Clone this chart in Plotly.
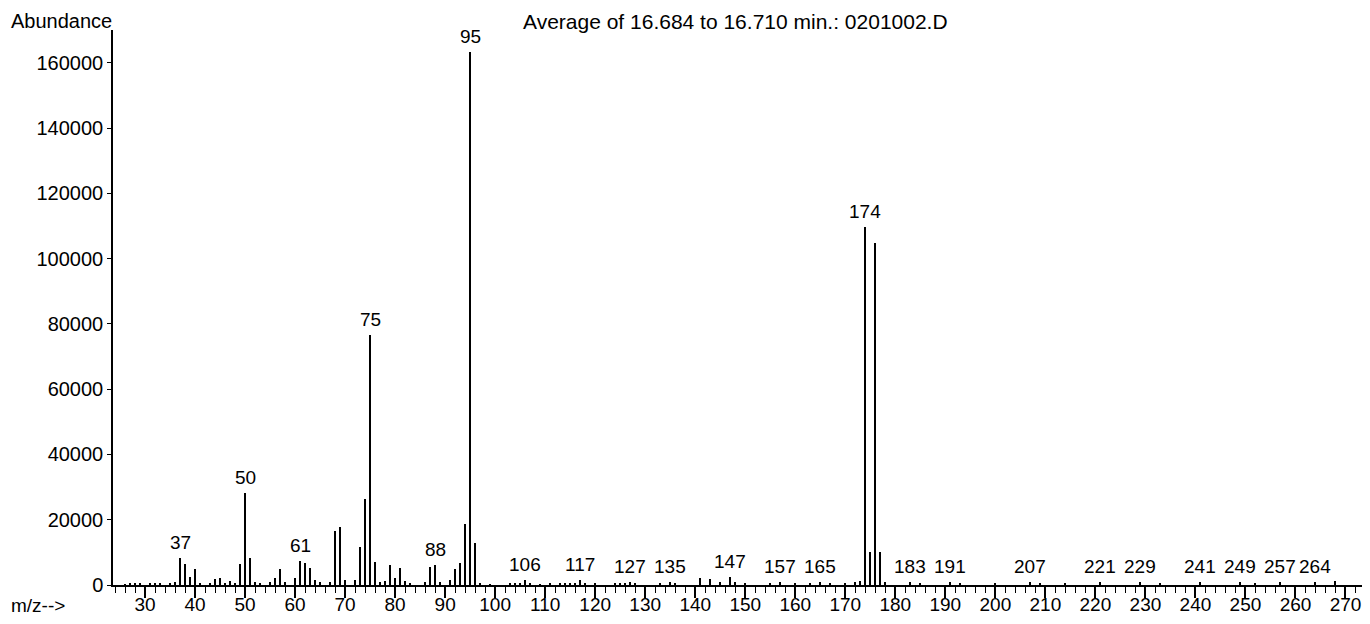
import plotly.graph_objects as go

# m/z values and abundances
mz = [26, 27, 28, 29, 31, 32, 33, 35, 36,
      37, 38, 39, 40, 41, 43, 44, 45, 46, 47, 48, 49, 50, 51, 52, 53, 55, 56, 57, 58,
      60, 61, 62, 63, 64, 65, 67, 68, 69, 70, 72, 73, 74, 75, 76, 77, 78, 79, 80, 81,
      82, 83, 86, 87, 88, 89, 91, 92, 93, 94, 95, 96, 97, 99,
      103, 104, 105, 106, 107, 109, 111, 113, 114, 115, 116, 117, 118, 120,
      124, 125, 126, 127, 128, 133, 135, 136, 141, 143, 145, 147, 148, 150,
      155, 157, 160, 163, 165, 167, 170, 172, 173, 174, 175, 176, 177, 178,
      183, 185, 191, 193, 200, 207, 209, 214, 221, 229, 233, 241, 249, 252,
      257, 264, 268]
abundance = [300, 500, 400, 500, 400, 600, 400, 500, 800,
             8300, 6500, 2500, 4800, 500, 600, 1800, 2000, 600, 1100, 600, 6500, 28200, 8300, 800, 600, 1000, 2300, 4800, 800,
             2000, 7500, 6800, 5300, 1500, 1000, 1000, 16500, 17800, 1500, 1400, 11500, 26500, 76500, 7200, 800, 1200, 6000, 2000, 5300,
             1200, 500, 800, 5500, 6000, 800, 1500, 5000, 6800, 18800, 163500, 12800, 500, 300,
             500, 600, 500, 1500, 400, 300, 400, 500, 400, 500, 600, 1600, 500, 400,
             500, 600, 500, 1000, 400, 600, 1000, 500, 2000, 1800, 1000, 2500, 800, 600,
             500, 1000, 500, 600, 1000, 500, 500, 800, 1200, 109800, 10000, 104800, 10000, 800,
             1000, 600, 1000, 400, 500, 1000, 400, 500, 1000, 1000, 500, 1000, 1000, 500,
             1000, 1000, 1200]

# peaks that carry an m/z label
labeled_mz = [37, 50, 61, 75, 88, 95, 106, 117, 127, 135, 147, 157, 165, 174,
              183, 191, 207, 221, 229, 241, 249, 257, 264]

y_ticks = [0, 20000, 40000, 60000, 80000, 100000, 120000, 140000, 160000]
x_ticks = list(range(30, 280, 10))

title_text = "Average of 16.684 to 16.710 min.: 0201002.D"
y_title = "Abundance"
x_title = "m/z-->"

FONT = "Liberation Sans, Arial, sans-serif"

fig = go.Figure()
fig.add_trace(go.Bar(x=mz, y=abundance, width=0.38,
                     marker=dict(color="black", line=dict(width=0)),
                     hoverinfo="x+y"))

lookup = dict(zip(mz, abundance))
for m in labeled_mz:
    fig.add_annotation(x=m, y=lookup[m], text=str(m), showarrow=False,
                       xanchor="center", yanchor="bottom", yshift=3,
                       font=dict(family=FONT, size=19, color="black"))

# the page body adds an 8 px offset, so the figure is sized to fit the window
W, H = 1362, 608
L, R, T, B = 105, 5, 22, 31
pw = W - L - R
ph = H - T - B

def px_x(x):
    return (x - L) / pw

def px_y(y):
    return 1 - (y - T) / ph

fig.add_annotation(xref="paper", yref="paper", x=px_x(1), y=px_y(0),
                   text=y_title, showarrow=False, xanchor="left", yanchor="top",
                   font=dict(family=FONT, size=20, color="black"))
fig.add_annotation(xref="paper", yref="paper", x=px_x(1), y=px_y(597),
                   text=x_title, showarrow=False, xanchor="left", yanchor="middle",
                   font=dict(family=FONT, size=19, color="black"))
fig.add_annotation(xref="paper", yref="paper", x=px_x(727), y=px_y(0),
                   text=title_text, showarrow=False, xanchor="center", yanchor="top",
                   font=dict(family=FONT, size=21, color="black"))

fig.update_layout(
    width=W, height=H,
    margin=dict(l=L, r=R, t=T, b=B, pad=0, autoexpand=False),
    paper_bgcolor="white", plot_bgcolor="white",
    showlegend=False, bargap=0,
    font=dict(family=FONT, size=19, color="black"),
)
fig.update_xaxes(range=[23.6, 273.9], tickvals=x_ticks, ticks="outside", ticklen=11,
                 tickwidth=1.5, tickcolor="black", showline=True, linecolor="black",
                 linewidth=1.5, showgrid=False, zeroline=False, automargin=False,
                 ticklabelstandoff=-10,
                 minor=dict(dtick=2, tick0=0, ticks="outside", ticklen=6, tickcolor="black",
                            tickwidth=1, showgrid=False),
                 tickfont=dict(family=FONT, size=19, color="black"))
fig.update_yaxes(range=[0, 170100], tickvals=y_ticks, ticktext=[str(v) for v in y_ticks],
                 ticks="outside", ticklen=4, tickcolor="black", showline=True,
                 linecolor="black", linewidth=1.5, showgrid=False, zeroline=False,
                 automargin=False,
                 tickfont=dict(family=FONT, size=20, color="black"))

fig.write_html("out.html")
